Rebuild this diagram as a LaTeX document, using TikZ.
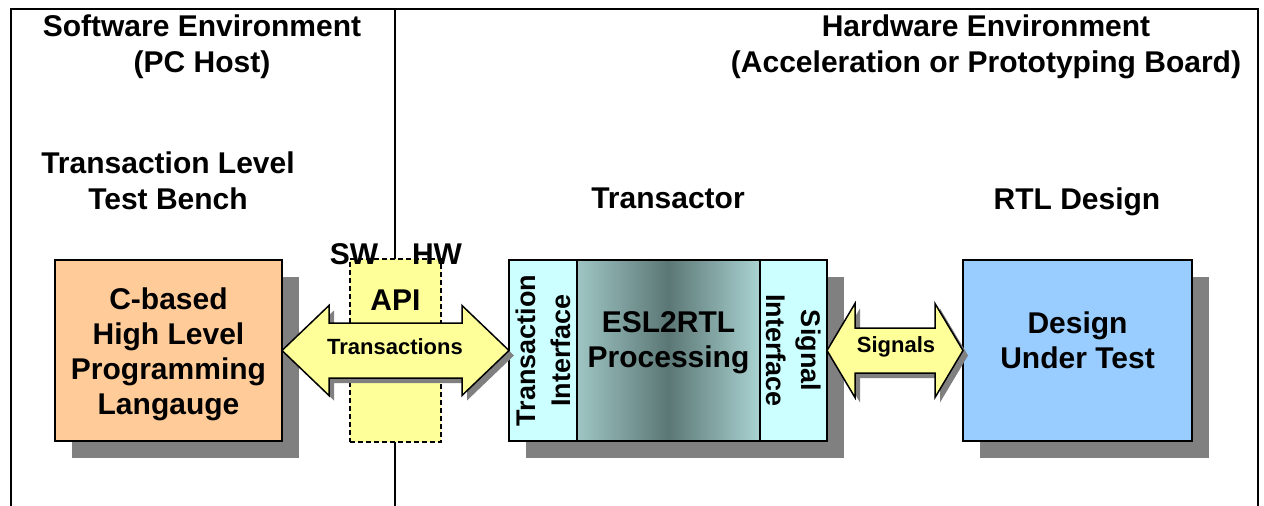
\documentclass[tikz,border=0pt]{standalone}
\usepackage{fontspec}
\setmainfont{Liberation Sans}
\usetikzlibrary{calc,positioning,shadows}

\definecolor{langorange}{HTML}{FFCC99}
\definecolor{apiyellow}{HTML}{FFFF99}
\definecolor{ifcyan}{HTML}{CCFFFF}
\definecolor{dutblue}{HTML}{99CCFF}
\definecolor{shadowgray}{HTML}{808080}
\definecolor{eslleft}{HTML}{9FC6C4}
\definecolor{eslmid}{HTML}{5B7775}
\definecolor{eslright}{HTML}{AAD3D2}

\tikzset{
 hdr/.style={font=\fontsize{30}{36}\selectfont\bfseries, align=center},
 boxtxt/.style={font=\fontsize{30}{35}\selectfont\bfseries, align=center},
 sidetxt/.style={font=\fontsize{27}{35}\selectfont\bfseries, align=center},
 arrowtxt/.style={font=\fontsize{22}{26}\selectfont\bfseries},
 box/.style={draw, line width=1.5pt, inner sep=0pt, outer sep=0pt, minimum height=181pt,
   drop shadow={shadow xshift=17pt, shadow yshift=-17pt, fill=shadowgray, opacity=1}},
 outline/.style={line width=1.2pt},
 fat/.style={draw, line width=1.5pt, fill=apiyellow, line join=miter},
 fatshadow/.style={fill=shadowgray, transform canvas={shift={(5pt,-5pt)}}},
}

% block arrow between two anchors: style, left tip, right tip, head length, half head, half shaft
\newcommand{\fatarrow}[6]{%
 \path[#1] (#2) -- ($(#2)+(#4,-#5)$) -- ($(#2)+(#4,-#6)$) -- ($(#3)+(-#4,-#6)$)
  -- ($(#3)+(-#4,-#5)$) -- (#3) -- ($(#3)+(-#4,#5)$) -- ($(#3)+(-#4,#6)$)
  -- ($(#2)+(#4,#6)$) -- ($(#2)+(#4,#5)$) -- cycle;}

\begin{document}
\begin{tikzpicture}[x=1pt, y=-1pt]
 \useasboundingbox (0,0) rectangle (1264,506);
 \draw[outline] (11,506) -- (11,9) -- (1258,9) -- (1258,506);
 \draw[outline] (395,9) -- (395,506);

 \node[hdr] (swenv) at (202,47) {Software Environment\\(PC Host)};
 \node[hdr] (hwenv) at (986,47) {Hardware Environment\\(Acceleration or Prototyping Board)};
 \node[hdr] (tlm) at (168,181) {Transaction Level\\Test Bench};
 \node[hdr] (xtor) at (668,198) {Transactor};
 \node[hdr] (rtl) at (1077,202) {RTL Design};

 \node[box, fill=langorange, minimum width=227pt] (cbox) at (168.5,350.5) {};
 \node[boxtxt] (cboxlbl) at ([yshift=-4pt]cbox.center)
  {C-based\\High Level\\Programming\\Langauge};

 \node[draw, line width=1.5pt, dash pattern=on 5pt off 3pt, fill=apiyellow,
  minimum width=91pt, minimum height=183pt, inner sep=0pt] (api) at (395.5,350.5) {};
 \node[hdr] (apilbl) at (395.5,300) {API};
 \node[hdr] (sw) at (354,254) {SW};
 \node[hdr] (hw) at (437,254) {HW};

 % transactor
 \node[box, fill=ifcyan, minimum width=68pt] (tif) at (543,350.5) {};
 \node[box, left color=eslleft, right color=eslright, middle color=eslmid,
  minimum width=183pt, right=0pt of tif] (esl) {};
 \node[box, fill=ifcyan, minimum width=67pt, right=0pt of esl] (sif) {};
 \node[sidetxt, rotate=90] (tiflbl) at (tif.center) {Transaction\\Interface};
 \node[boxtxt] (esllbl) at ([yshift=8pt]esl.center) {ESL2RTL\\Processing};
 \node[sidetxt, rotate=-90] (siflbl) at (sif.center) {Signal\\Interface};

 \node[box, fill=dutblue, minimum width=229pt] (dut) at (1077.5,350.5) {};
 \node[boxtxt] (dutlbl) at ([yshift=10pt]dut.center) {Design\\Under Test};

 % fat arrows
 \fatarrow{fatshadow}{cbox.east}{tif.west}{47}{45}{27.5}
 \fatarrow{fat}{cbox.east}{tif.west}{47}{45}{27.5}
 \node[arrowtxt] (trlbl) at (395,347) {Transactions};
 \fatarrow{fatshadow}{sif.east}{dut.west}{28}{47}{22.5}
 \fatarrow{fat}{sif.east}{dut.west}{28}{47}{22.5}
 \node[arrowtxt] (siglbl) at (896,347) {Signals};
\end{tikzpicture}
\end{document}
